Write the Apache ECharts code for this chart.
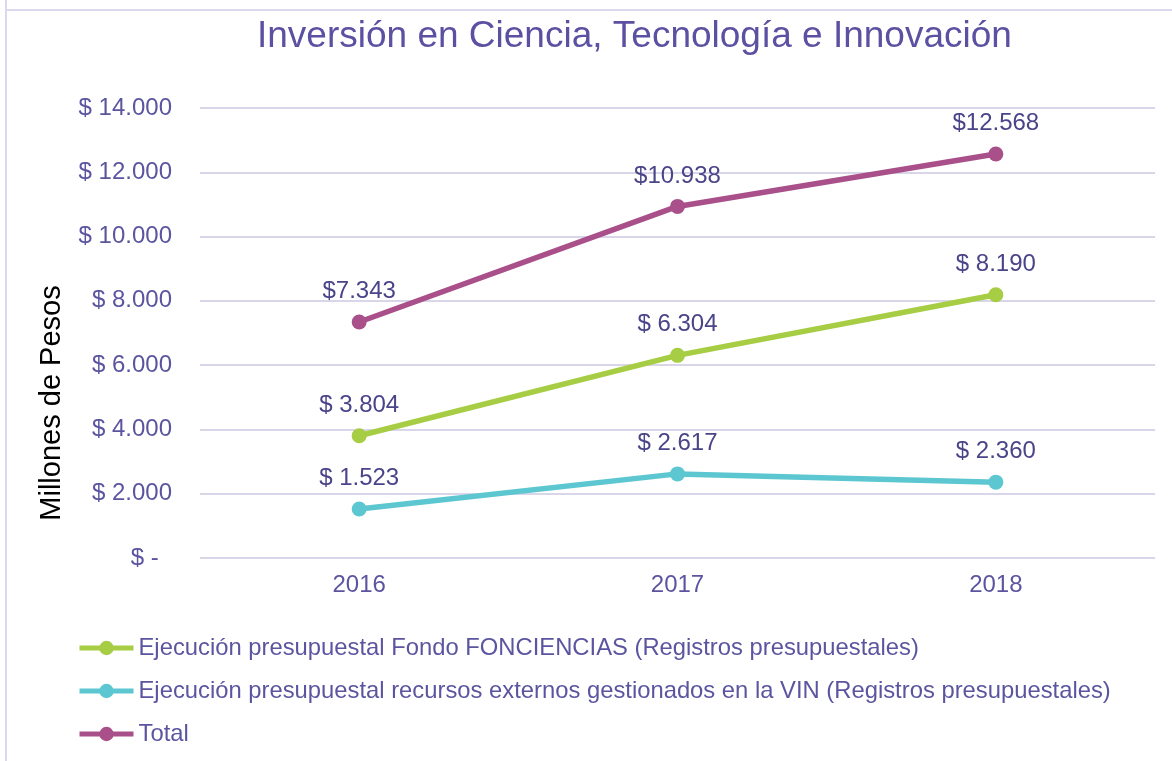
<!DOCTYPE html>
<html>
<head>
<meta charset="utf-8">
<script src="https://cdn.jsdelivr.net/npm/echarts@6/dist/echarts.min.js"></script>
<style>
  html, body { margin: 0; padding: 0; background: #fff; }
  #chart { width: 1172px; height: 761px; }
</style>
</head>
<body>
<div id="chart"></div>
<script>
const years = ['2016', '2017', '2018']
const fondoFonciencias = [3804, 6304, 8190]
const recursosExternos = [1523, 2617, 2360]
const total = [7343, 10938, 12568]
const seriesNames = [
  'Ejecución presupuestal Fondo FONCIENCIAS (Registros presupuestales)',
  'Ejecución presupuestal recursos externos gestionados en la VIN (Registros presupuestales)',
  'Total'
]

const fmt = v => v.toLocaleString('de-DE')

const textColor = '#5b55a0'
const labelColor = '#4a4489'
const font = 'Liberation Sans, Arial, sans-serif'

function lineSeries(name, data, color, withSpace) {
  return {
    name: name,
    type: 'line',
    data: data,
    symbol: 'circle',
    symbolSize: 15,
    lineStyle: {color: color, width: 5.5},
    itemStyle: {color: color},
    label: {
      show: true,
      position: 'top',
      distance: 11,
      color: labelColor,
      fontSize: 24,
      fontFamily: font,
      formatter: p => (withSpace ? '$ ' : '$') + fmt(p.value)
    }
  }
}

const chart = echarts.init(document.getElementById('chart'))
chart.setOption({
  animation: false,
  title: {
    text: 'Inversión en Ciencia, Tecnología e Innovación',
    left: 252,
    top: 13,
    textStyle: {color: '#5b50a2', fontSize: 37, fontWeight: 'normal', fontFamily: font}
  },
  legend: {
    orient: 'vertical',
    left: 72,
    top: 631,
    itemWidth: 54,
    itemHeight: 18,
    itemGap: 19,
    lineStyle: {width: 5},
    textStyle: {color: textColor, fontSize: 23.8, fontFamily: font},
    data: seriesNames
  },
  grid: {left: 200, right: 17, top: 108, bottom: 203},
  xAxis: {
    type: 'category',
    data: years,
    axisLine: {show: false},
    axisTick: {show: false},
    axisLabel: {color: textColor, fontSize: 24, fontFamily: font, margin: 15}
  },
  yAxis: {
    type: 'value',
    min: 0,
    max: 14000,
    interval: 2000,
    axisLine: {show: false},
    axisTick: {show: false},
    splitLine: {lineStyle: {color: '#d9d6ea', width: 2}},
    axisLabel: {
      color: textColor,
      fontSize: 24,
      fontFamily: font,
      margin: 28,
      formatter: v => v === 0 ? '$ -  ' : '$ ' + fmt(v)
    }
  },
  graphic: [
    {type: 'line', shape: {x1: 6, y1: 0, x2: 6, y2: 761}, style: {stroke: '#dcd9ee', lineWidth: 2}},
    {type: 'line', shape: {x1: 6, y1: 10, x2: 1172, y2: 10}, style: {stroke: '#dcd9ee', lineWidth: 2}},
    {
      type: 'text',
      x: 52,
      y: 403,
      rotation: Math.PI / 2,
      style: {
        text: 'Millones de Pesos',
        fill: '#000',
        fontSize: 29,
        fontFamily: font,
        textAlign: 'center',
        textVerticalAlign: 'middle'
      }
    }
  ],
  series: [
    lineSeries(seriesNames[0], fondoFonciencias, '#a6cd43', true),
    lineSeries(seriesNames[1], recursosExternos, '#5cc7d1', true),
    lineSeries(seriesNames[2], total, '#a9508a', false)
  ]
})
</script>
</body>
</html>
